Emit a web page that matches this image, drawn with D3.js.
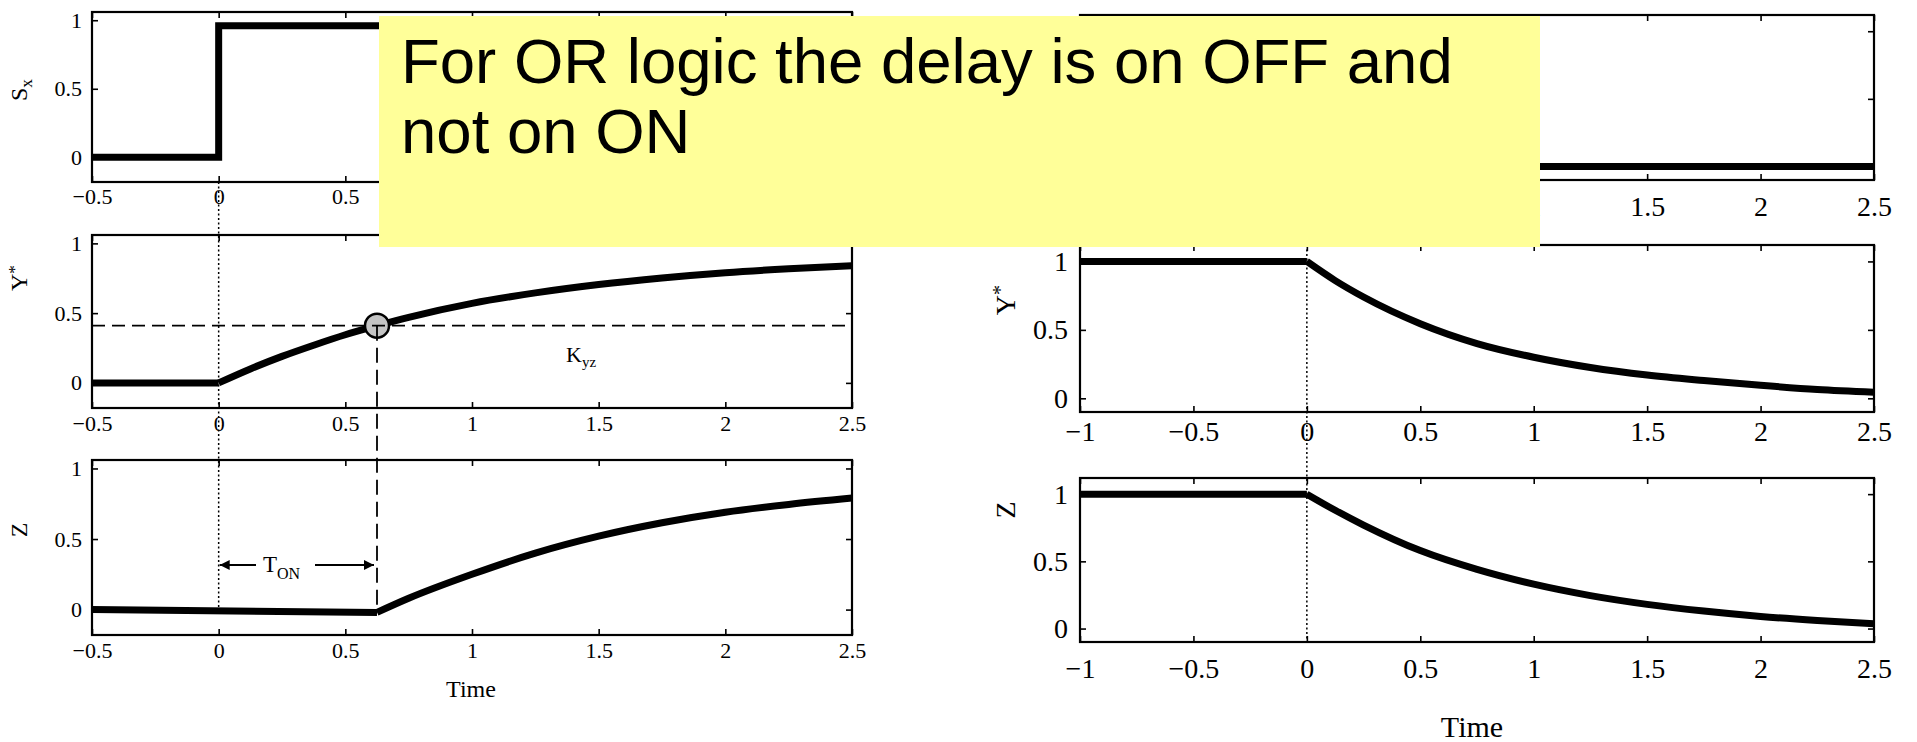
<!DOCTYPE html>
<html><head><meta charset="utf-8">
<script src="https://cdn.jsdelivr.net/npm/d3@7"></script>
<style>
html,body{margin:0;padding:0;background:#fff;}
svg{display:block;}
</style></head><body>
<svg id="fig" width="1917" height="742"></svg>
<script>
// ---- ON step (left column) ----
const onTicksX = [-0.5, 0, 0.5, 1, 1.5, 2, 2.5];
const yTicks = [0, 0.5, 1];

const sxOnTime  = [-0.5, 0, 0, 2.5];
const sxOnValue = [0, 0, 0.96, 0.96];
const yOnTime   = [-0.5, 0, 0.125, 0.25, 0.375, 0.5, 0.625, 0.75, 1, 1.25, 1.5, 1.75, 2, 2.25, 2.5];
const yOnValue  = [0, 0, 0.10, 0.19, 0.27, 0.345, 0.41, 0.47, 0.57, 0.645, 0.705, 0.752, 0.79, 0.818, 0.84];
const zOnTime   = [-0.5, 0.625, 0.75, 1, 1.25, 1.5, 1.75, 2, 2.25, 2.5];
const zOnValue  = [0, -0.02, 0.08, 0.25, 0.40, 0.52, 0.615, 0.69, 0.745, 0.79];
const kyz = 0.41;      // activation threshold of Z by Y*
const tOn = 0.625;     // ON delay

// ---- OFF step (right column) ----
const offTicksX  = [-1, -0.5, 0, 0.5, 1, 1.5, 2, 2.5];
const sxOffTime  = [-1, 0, 0, 2.5];
const sxOffValue = [1, 1, 0, 0];
const yOffTime   = [-1, 0, 0.125, 0.25, 0.5, 0.75, 1, 1.25, 1.5, 1.75, 2, 2.25, 2.5];
const yOffValue  = [1, 1, 0.86, 0.74, 0.545, 0.40, 0.30, 0.225, 0.17, 0.13, 0.095, 0.065, 0.045];
const zOffTime   = [-1, 0, 0.125, 0.25, 0.5, 0.75, 1, 1.25, 1.5, 1.75, 2, 2.25, 2.5];
const zOffValue  = [1, 1, 0.88, 0.77, 0.58, 0.44, 0.33, 0.245, 0.18, 0.13, 0.09, 0.06, 0.035];

const noteLines = ["For OR logic the delay is on OFF and", "not on ON"];

const svg = d3.select('#fig');
const fmt = d3.format('~g');
const SERIF = '"Liberation Serif","Times New Roman",serif';

const defs = svg.append('defs');
defs.append('marker').attr('id', 'arrow')
  .attr('viewBox', '0 0 10 10').attr('refX', 10).attr('refY', 5)
  .attr('markerWidth', 12).attr('markerHeight', 10).attr('markerUnits', 'userSpaceOnUse')
  .attr('orient', 'auto-start-reverse')
  .append('path').attr('d', 'M0,0 L10,5 L0,10 Z').attr('fill', '#000');

function makePanel(cfg) {
  const x = d3.scaleLinear().domain(cfg.xd).range(cfg.xr);
  const y = d3.scaleLinear().domain(cfg.yd).range([cfg.yr[1], cfg.yr[0]]);
  const g = svg.append('g');
  const fs = cfg.fs;

  const bottom = g.append('g').attr('transform', `translate(0,${cfg.yr[1]})`)
    .call(d3.axisBottom(x).tickValues(cfg.xt).tickSize(-6).tickPadding(cfg.xpad).tickFormat(fmt));
  const top = g.append('g').attr('transform', `translate(0,${cfg.yr[0]})`)
    .call(d3.axisTop(x).tickValues(cfg.xt).tickSize(-6));
  const left = g.append('g').attr('transform', `translate(${cfg.xr[0]},0)`)
    .call(d3.axisLeft(y).tickValues(yTicks).tickSize(-6).tickPadding(cfg.ypad).tickFormat(fmt));
  const right = g.append('g').attr('transform', `translate(${cfg.xr[1]},0)`)
    .call(d3.axisRight(y).tickValues(yTicks).tickSize(-6));
  // mirrored axes carry ticks only
  top.selectAll('text').remove();
  right.selectAll('text').remove();
  [bottom, top, left, right].forEach(a => {
    a.select('.domain').remove();
    a.selectAll('line').attr('stroke', '#000').attr('stroke-width', 1.6);
    a.selectAll('text').attr('font-family', SERIF).attr('font-size', fs).attr('fill', '#000');
  });
  g.append('rect')
    .attr('x', cfg.xr[0]).attr('y', cfg.yr[0])
    .attr('width', cfg.xr[1] - cfg.xr[0]).attr('height', cfg.yr[1] - cfg.yr[0])
    .attr('fill', 'none').attr('stroke', '#000').attr('stroke-width', 2.2);

  // rotated axis title
  const t = g.append('text')
    .attr('transform', `translate(${cfg.lx},${cfg.ly}) rotate(-90)`)
    .attr('text-anchor', 'middle').attr('font-family', SERIF).attr('font-size', cfg.lfs);
  t.append('tspan').text(cfg.label[0]);
  if (cfg.label[1]) {
    t.append('tspan').attr('font-size', cfg.lfs * 0.72)
      .attr('dy', cfg.label[2] === 'sub' ? cfg.lfs * 0.22 : -cfg.lfs * 0.3)
      .text(cfg.label[1]);
  }
  return { x, y, g };
}

const curve = (p, ts, vs, split) => {
  const pts = ts.map((t, i) => [p.x(t), p.y(vs[i])]);
  const flat = pts.slice(0, split + 1);
  const rise = pts.slice(split);
  const style = sel => sel.attr('fill', 'none').attr('stroke', '#000')
    .attr('stroke-width', 7).attr('stroke-linejoin', 'round').attr('stroke-linecap', 'butt');
  p.g.append('path').attr('d', d3.line()(flat)).call(style);
  p.g.append('path').attr('d', d3.line().curve(d3.curveMonotoneX)(rise)).call(style);
};
const step = (p, ts, vs) => {
  p.g.append('path')
    .attr('d', d3.line()(ts.map((t, i) => [p.x(t), p.y(vs[i])])))
    .attr('fill', 'none').attr('stroke', '#000').attr('stroke-width', 7).attr('stroke-linejoin', 'miter');
};

// ---- left column ----
const L = { xd: [-0.5, 2.5], xr: [92, 852], yd: [-0.18, 1.06], xt: onTicksX, fs: 22, lfs: 24, ypad: 10 };
const pSxOn = makePanel({ ...L, yr: [12, 182], xpad: 6, label: ['S', 'x', 'sub'], lx: 27, ly: 90 });
const pYOn  = makePanel({ ...L, yr: [235, 408], xpad: 7, label: ['Y', '*', 'sup'], lx: 27, ly: 278 });
const pZOn  = makePanel({ ...L, yr: [460, 635], xpad: 7, label: ['Z'], lx: 27, ly: 530 });

// guide lines: t = 0 (dotted) and Kyz / T_ON (dashed)
svg.append('line')
  .attr('x1', pSxOn.x(0)).attr('x2', pSxOn.x(0))
  .attr('y1', pSxOn.y(-0.18)).attr('y2', pZOn.y(0))
  .attr('stroke', '#000').attr('stroke-width', 1.5).attr('stroke-dasharray', '2,2.5');
svg.append('line')
  .attr('x1', pYOn.x(-0.5)).attr('x2', pYOn.x(2.5))
  .attr('y1', pYOn.y(kyz)).attr('y2', pYOn.y(kyz))
  .attr('stroke', '#000').attr('stroke-width', 1.8).attr('stroke-dasharray', '13,7');
svg.append('line')
  .attr('x1', pYOn.x(tOn)).attr('x2', pYOn.x(tOn))
  .attr('y1', pYOn.y(kyz)).attr('y2', pZOn.y(0))
  .attr('stroke', '#000').attr('stroke-width', 1.8).attr('stroke-dasharray', '15,7');

step(pSxOn, sxOnTime, sxOnValue);
curve(pYOn, yOnTime, yOnValue, 1);
curve(pZOn, zOnTime, zOnValue, 1);

pYOn.g.append('circle')
  .attr('cx', pYOn.x(tOn)).attr('cy', pYOn.y(kyz)).attr('r', 12)
  .attr('fill', '#c4c4c4').attr('stroke', '#000').attr('stroke-width', 2.5);

const kLabel = svg.append('text').attr('x', 566).attr('y', 362)
  .attr('font-family', SERIF).attr('font-size', 22);
kLabel.append('tspan').text('K');
kLabel.append('tspan').attr('font-size', 15).attr('dy', 5).text('yz');

// T_ON span arrows
const yArrow = 565;
svg.append('line').attr('x1', 256).attr('x2', pZOn.x(0) + 1).attr('y1', yArrow).attr('y2', yArrow)
  .attr('stroke', '#000').attr('stroke-width', 1.8).attr('marker-end', 'url(#arrow)');
svg.append('line').attr('x1', 315).attr('x2', pZOn.x(tOn) - 3).attr('y1', yArrow).attr('y2', yArrow)
  .attr('stroke', '#000').attr('stroke-width', 1.8).attr('marker-end', 'url(#arrow)');
const tLabel = svg.append('text').attr('x', 263).attr('y', 572)
  .attr('font-family', SERIF).attr('font-size', 23);
tLabel.append('tspan').text('T');
tLabel.append('tspan').attr('font-size', 16).attr('dy', 7).text('ON');

svg.append('text').attr('x', 471).attr('y', 697).attr('text-anchor', 'middle')
  .attr('font-family', SERIF).attr('font-size', 24).text('Time');

// ---- right column ----
const R = { xd: [-1, 2.5], xr: [1080, 1874], yd: [-0.1, 1.12], xt: offTicksX, fs: 28, lfs: 28, ypad: 12 };
const pSxOff = makePanel({ ...R, yr: [15, 180], xpad: 16, label: ['S', 'x', 'sub'], lx: 1015, ly: 95 });
const pYOff  = makePanel({ ...R, yr: [245, 412], xpad: 9, label: ['Y', '*', 'sup'], lx: 1015, ly: 300 });
const pZOff  = makePanel({ ...R, yr: [478, 642], xpad: 16, label: ['Z'], lx: 1015, ly: 510 });

svg.append('line')
  .attr('x1', pYOff.x(0)).attr('x2', pYOff.x(0))
  .attr('y1', 200).attr('y2', pZOff.y(-0.1))
  .attr('stroke', '#000').attr('stroke-width', 1.5).attr('stroke-dasharray', '2,2.5');

step(pSxOff, sxOffTime, sxOffValue);
curve(pYOff, yOffTime, yOffValue, 1);
curve(pZOff, zOffTime, zOffValue, 1);

svg.append('text').attr('x', 1472).attr('y', 737).attr('text-anchor', 'middle')
  .attr('font-family', SERIF).attr('font-size', 30).text('Time');

// ---- note box, laid over the top panels ----
const note = { x: 379, y: 16, w: 1161, h: 231 };
// labels that sit entirely under the note are dropped
svg.selectAll('text').each(function () {
  const r = this.getBoundingClientRect();
  if (r.left >= note.x && r.right <= note.x + note.w && r.top >= note.y && r.bottom <= note.y + note.h) {
    d3.select(this).remove();
  }
});
svg.append('rect').attr('x', note.x).attr('y', note.y).attr('width', note.w).attr('height', note.h)
  .attr('fill', '#ffff99');
svg.selectAll('text.note').data(noteLines).join('text').attr('class', 'note')
  .attr('font-family', '"Liberation Sans",Arial,sans-serif').attr('font-size', 63.5)
  .attr('x', 401).attr('y', (d, i) => 83 + i * 70).text(d => d);
</script>
</body></html>
